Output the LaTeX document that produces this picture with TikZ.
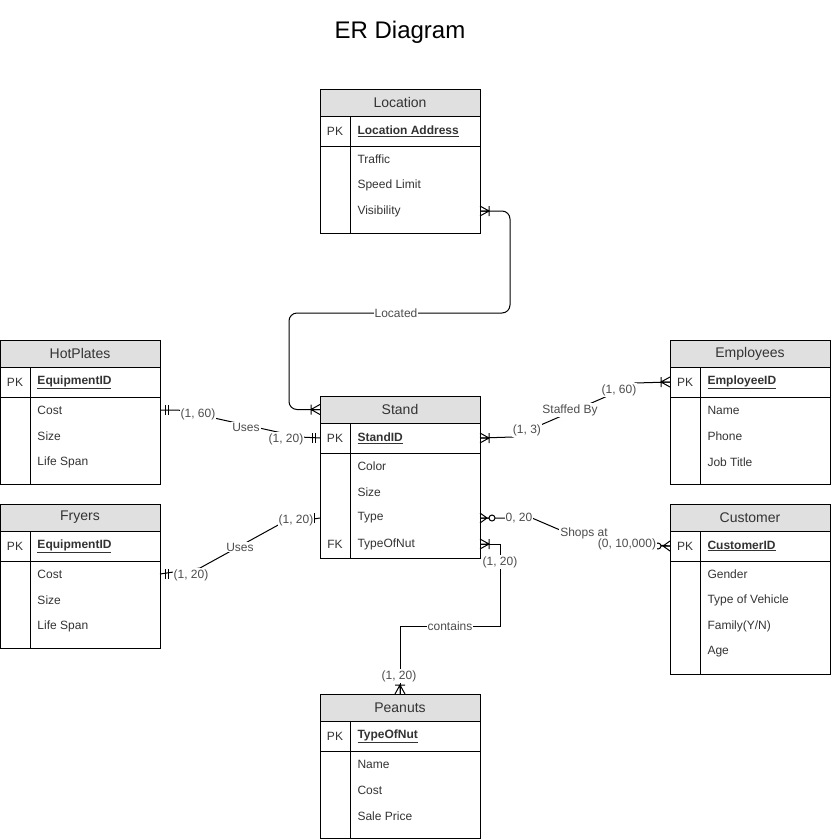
\documentclass[tikz,border=0pt]{standalone}
\usepackage{fontspec}
\setmainfont{Liberation Sans}
\usetikzlibrary{positioning,calc}

\definecolor{hdrgray}{HTML}{E0E0E0}
\definecolor{txtgray}{HTML}{333333}
\definecolor{lblgray}{HTML}{4D4D4D}

\tikzset{
  tabhead/.style={draw, fill=hdrgray, minimum width=160pt, minimum height=27pt, inner sep=0pt, outer sep=0pt, font=\fontsize{14}{16}\selectfont, text=txtgray},
  tabpk/.style={draw, minimum width=160pt, minimum height=30pt, inner sep=0pt, outer sep=0pt},
  tabbody/.style={draw, minimum width=160pt, inner sep=0pt, outer sep=0pt},
  pkcell/.style={font=\fontsize{12}{14}\selectfont, text=txtgray},
  pkname/.style={anchor=west, inner sep=0pt, font=\fontsize{12}{14}\selectfont\bfseries, text=txtgray},
  attr/.style={anchor=west, inner sep=0pt, font=\fontsize{12}{14}\selectfont, text=txtgray},
  lbl/.style={fill=white, inner sep=1pt, font=\fontsize{12}{14}\selectfont, text=lblgray},
  onemany/.pic={\draw (0,-5) -- (9,0) -- (0,5) (0,0) -- (9,0) (9,-5) -- (9,5);},
  mandone/.pic={\draw (5,-5) -- (5,5) (8,-5) -- (8,5);},
  justone/.pic={\draw (6,-5) -- (6,5);},
  zeromany/.pic={\draw (0,-5) -- (7,0) -- (0,5) (0,0) -- (9,0); \draw[fill=white] (12,0) circle (3pt);}
}

\begin{document}
\begin{tikzpicture}[x=1pt, y=-1pt, line width=1pt]
  \useasboundingbox (0,0) rectangle (831,839);

  % Title
  \node[font=\fontsize{24}{28}\selectfont] (title) at (400,32) {ER Diagram};

  % Location
  \node[tabhead, anchor=north west] (locH) at (320,89) {Location};
  \node[tabpk, below=0pt of locH] (locPK) {};
  \node[tabbody, minimum height=87pt, below=0pt of locPK] (locB) {};
  \draw ([xshift=30pt]locPK.north west) -- ([xshift=30pt]locB.south west);
  \node[pkcell] at ([xshift=15pt]locPK.west) {PK};
  \node[pkname] at ([xshift=37pt]locPK.west) {\underline{Location Address}};
  \foreach \a [count=\i] in {Traffic, Speed Limit, Visibility}
    \node[attr] (loc\i) at ($(locB.north west)+(37,26*\i-13)$) {\a};

  % HotPlates
  \node[tabhead, anchor=north west] (hpH) at (0,340) {HotPlates};
  \node[tabpk, below=0pt of hpH] (hpPK) {};
  \node[tabbody, minimum height=87pt, below=0pt of hpPK] (hpB) {};
  \draw ([xshift=30pt]hpPK.north west) -- ([xshift=30pt]hpB.south west);
  \node[pkcell] at ([xshift=15pt]hpPK.west) {PK};
  \node[pkname] at ([xshift=37pt]hpPK.west) {\underline{EquipmentID}};
  \foreach \a [count=\i] in {Cost, Size, Life Span}
    \node[attr] (hp\i) at ($(hpB.north west)+(37,26*\i-13)$) {\a};

  % Stand
  \node[tabhead, anchor=north west] (standH) at (320,396) {Stand};
  \node[tabpk, below=0pt of standH] (standPK) {};
  \node[tabbody, minimum height=105pt, below=0pt of standPK] (standB) {};
  \draw ([xshift=30pt]standPK.north west) -- ([xshift=30pt]standB.south west);
  \node[pkcell] at ([xshift=15pt]standPK.west) {PK};
  \node[pkname] at ([xshift=37pt]standPK.west) {\underline{StandID}};
  \foreach \a [count=\i] in {Color, Size, Type, TypeOfNut}
    \node[attr] (stand\i) at ($(standB.north west)+(37,26*\i-13)$) {\a};
  \node[pkcell] at ($(standB.north west)+(15,91)$) {FK};

  % Employees
  \node[tabhead, anchor=north west] (emH) at (670,340) {Employees};
  \node[tabpk, below=0pt of emH] (emPK) {};
  \node[tabbody, minimum height=87pt, below=0pt of emPK] (emB) {};
  \draw ([xshift=30pt]emPK.north west) -- ([xshift=30pt]emB.south west);
  \node[pkcell] at ([xshift=15pt]emPK.west) {PK};
  \node[pkname] at ([xshift=37pt]emPK.west) {\underline{EmployeeID}};
  \foreach \a [count=\i] in {Name, Phone, Job Title}
    \node[attr] (em\i) at ($(emB.north west)+(37,26*\i-13)$) {\a};

  % Fryers
  \node[tabhead, anchor=north west] (frH) at (0,504) {Fryers};
  \node[tabpk, below=0pt of frH] (frPK) {};
  \node[tabbody, minimum height=87pt, below=0pt of frPK] (frB) {};
  \draw ([xshift=30pt]frPK.north west) -- ([xshift=30pt]frB.south west);
  \node[pkcell] at ([xshift=15pt]frPK.west) {PK};
  \node[pkname] at ([xshift=37pt]frPK.west) {\underline{EquipmentID}};
  \foreach \a [count=\i] in {Cost, Size, Life Span}
    \node[attr] (fr\i) at ($(frB.north west)+(37,26*\i-13)$) {\a};

  % Customer
  \node[tabhead, anchor=north west] (custH) at (670,504) {Customer};
  \node[tabpk, below=0pt of custH] (custPK) {};
  \node[tabbody, minimum height=113pt, below=0pt of custPK] (custB) {};
  \draw ([xshift=30pt]custPK.north west) -- ([xshift=30pt]custB.south west);
  \node[pkcell] at ([xshift=15pt]custPK.west) {PK};
  \node[pkname] at ([xshift=37pt]custPK.west) {\underline{CustomerID}};
  \foreach \a [count=\i] in {Gender, Type of Vehicle, Family(Y/N), Age}
    \node[attr] (cust\i) at ($(custB.north west)+(37,26*\i-13)$) {\a};

  % Peanuts
  \node[tabhead, anchor=north west] (peH) at (320,694) {Peanuts};
  \node[tabpk, below=0pt of peH] (pePK) {};
  \node[tabbody, minimum height=87pt, below=0pt of pePK] (peB) {};
  \draw ([xshift=30pt]pePK.north west) -- ([xshift=30pt]peB.south west);
  \node[pkcell] at ([xshift=15pt]pePK.west) {PK};
  \node[pkname] at ([xshift=37pt]pePK.west) {\underline{TypeOfNut}};
  \foreach \a [count=\i] in {Name, Cost, Sale Price}
    \node[attr] (pe\i) at ($(peB.north west)+(37,26*\i-13)$) {\a};

  % Relationships
  \draw[rounded corners=8pt] (loc3 -| locB.east) -- ++(30,0) |- (289,313) |- (standH.west);
  \pic at (loc3 -| locB.east) {onemany};
  \pic[rotate=180] at (standH.west) {onemany};
  \node[lbl] (located) at (396,313) {Located};

  \draw (hp1 -| hpB.east) -- ++(18,0) -- (300,437) -- (standPK.west);
  \pic at (hp1 -| hpB.east) {mandone};
  \pic[rotate=180] at (standPK.west) {mandone};
  \node[lbl] (hpL) at (198,414) {(1, 60)};
  \node[lbl] (hpUses) at (246,427) {Uses};
  \node[lbl] (hpR) at (286,439) {(1, 20)};

  \draw (fr1 -| frB.east) -- (200,568) -- (280,524) -- (stand3 -| standB.west);
  \pic at (fr1 -| frB.east) {mandone};
  \pic[rotate=180] at (stand3 -| standB.west) {justone};
  \node[lbl] (frL) at (191,575) {(1, 20)};
  \node[lbl] (frUses) at (240,547) {Uses};
  \node[lbl] (frR) at (296,520) {(1, 20)};

  \draw (standPK.east) -- (513,437) -- (603,398) -- (635,383) -- (emPK.west);
  \pic at (standPK.east) {onemany};
  \pic[rotate=180] at (emPK.west) {onemany};
  \node[lbl] (emL) at (527,430) {(1, 3)};
  \node[lbl] (staffed) at (570,410) {Staffed By};
  \node[lbl] (emR) at (619,390) {(1, 60)};

  \draw (stand3 -| standB.east) -- (532,518) -- (560,530) -- (600,540) -- (custPK.west);
  \pic at (stand3 -| standB.east) {zeromany};
  \pic[rotate=180] at (custPK.west) {zeromany};
  \node[lbl] (custL) at (519,518) {0, 20};
  \node[lbl] (shops) at (584,533) {Shops at};
  \node[lbl] (custR) at (627,544) {(0, 10,000)};

  \draw (stand4 -| standB.east) -- ++(20,0) |- (400,626) -- (peH.north);
  \pic at (stand4 -| standB.east) {onemany};
  \pic[rotate=90] at (peH.north) {onemany};
  \node[lbl] (peTop) at (500,562) {(1, 20)};
  \node[lbl] (contains) at (450,626) {contains};
  \node[lbl] (peBot) at (399,676) {(1, 20)};
\end{tikzpicture}
\end{document}
